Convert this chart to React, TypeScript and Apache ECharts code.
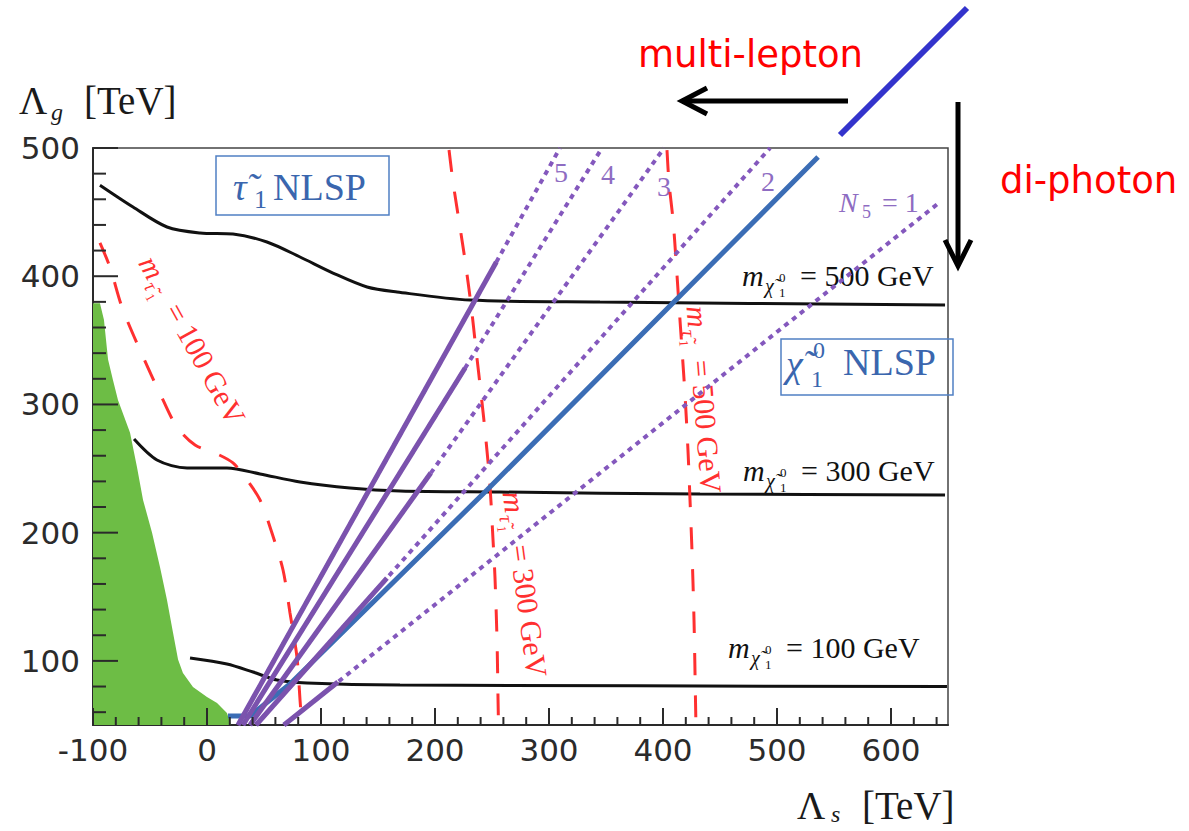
import React, { useEffect, useRef } from 'react';
import * as echarts from 'echarts';

const W = 1189;
const H = 831;

// ---- plot area and axis ranges ----
const GRID = { left: 93, top: 148, right: 948, bottom: 725 };
const X_MIN = -100;
const X_MAX = 650;
const Y_MIN = 50;
const Y_MAX = 500;

// ---- axis ticks ----
const xMajorTicks = [-100, 0, 100, 200, 300, 400, 500, 600];
const yMajorTicks = [100, 200, 300, 400, 500];
const xMinorTicks: number[] = [];
for (let v = -80; v < 650; v += 20) if (v % 100 !== 0) xMinorTicks.push(v);
const yMinorTicks: number[] = [];
for (let v = 60; v < 500; v += 20) if (v % 100 !== 0) yMinorTicks.push(v);

// ---- excluded (green) region, edge of the filled area ----
const excludedEdge = [
  [-100, 379], [-93.9, 379], [-90.4, 366], [-86.8, 335], [-82.5, 319], [-78.1, 303.5],
  [-67.5, 278], [-61.4, 251], [-56.1, 225.5], [-48.2, 200], [-41.2, 173], [-35.1, 147.5],
  [-29.8, 122], [-25.4, 101], [-21.1, 90.6], [-12.3, 79.6], [0, 71.8], [8.8, 67.2],
  [17.5, 59.4], [21.1, 50],
];

// ---- neutralino mass contours (black) ----
const neutralino500 = [
  [-93.9, 471], [-64.9, 454], [-35.1, 438.4], [-6.1, 433.7], [22.8, 432.9], [52.6, 426.7],
  [81.6, 415], [110.5, 402.5], [140.4, 391.6], [166.7, 387.7], [230.7, 381.4], [344.7, 379.9],
  [647.4, 377.5],
];
const neutralino300 = [
  [-64, 273], [-43.9, 256.7], [-17.5, 250.4], [17.5, 250.4], [46.5, 245.8], [81.6, 239.5],
  [125.4, 234.8], [169.3, 232.5], [257, 231.7], [432.5, 230.1], [647.4, 229.4],
];
const neutralino100 = [
  [-14.9, 102.3], [17.5, 97.6], [40.4, 91.3], [61.4, 85.1], [87.7, 82.8], [169.3, 81.2],
  [649.1, 80],
];

// ---- stau mass contours (red dashed) ----
const stau100 = [
  [-93.9, 426], [-85.1, 407], [-74.6, 376], [-58.8, 342.5], [-38.6, 303.5], [-26.3, 282.4],
  [-10.5, 268.4], [8.8, 261.4], [22.8, 254.4], [35.1, 241.1], [46.5, 225.5], [57, 199.7],
  [66.7, 170.9], [72.8, 137.4], [78.9, 103], [81.6, 69.5], [83.3, 50],
];
const stau300 = [
  [212.3, 498.4], [215.8, 473.5], [221.9, 438.4], [226.3, 412.7], [231.6, 377.6], [236, 342.5],
  [240.4, 308.2], [244.7, 272.3], [248.2, 237.2], [250.9, 194.3], [252.6, 165.4], [254.4, 116.3],
  [255.3, 69.5], [255.7, 50],
];
const stau500 = [
  [403.5, 498.4], [405.3, 472.7], [408.8, 443.9], [411.4, 412.7], [414, 377.6], [416.7, 342.5],
  [419.3, 307.4], [421.9, 264.5], [423.7, 225.5], [425.4, 186.5], [427.2, 131.9], [428.5, 69.5],
  [428.9, 50],
];

// ---- NLSP boundary (blue) ----
const nlspBoundary = [[18.4, 57], [37.7, 57], [72.8, 82], [245.6, 233.3], [536, 493]];

// ---- N5 contours: full (dotted) and lower solid part ----
const n5Dotted1 = [[67.5, 50], [643, 457.9]];
const n5Dotted2 = [[43, 50], [493.9, 500]];
const n5Dotted3 = [[37.7, 50], [400.9, 500]];
const n5Dotted4 = [[31.6, 50], [346.5, 500]];
const n5Dotted5 = [[27.2, 50], [309.6, 500]];
const n5Solid1 = [[67.5, 50], [114.8, 83.5]];
const n5Solid2 = [[43, 50], [157.8, 164.6]];
const n5Solid3 = [[37.7, 50], [196.3, 246.5]];
const n5Solid4 = [[31.6, 50], [226.4, 328.4]];
const n5Solid5 = [[27.2, 50], [253.8, 411.1]];

const neutralinoMasses = ['500', '300', '100'];
const stauMasses = ['100', '300', '500'];
const n5Labels = ['5', '4', '3', '2'];

const SERIF = '"Liberation Serif", "DejaVu Serif", serif';
const SANS = '"DejaVu Sans", sans-serif';

const BLACK = '#111111';
const RED = '#ff3030';
const PURPLE = '#7b52ad';
const PURPLE_DOT = '#8458bd';
const PURPLE_TEXT = '#8e6cc2';
const BLUE = '#3b6db5';
const BLUE_TEXT = '#3a66ae';
const TICK = '#2a2a2a';

// linear maps matching the grid and the axis ranges above
const PX_PER_X = (GRID.right - GRID.left) / (X_MAX - X_MIN);
const PX_PER_Y = (GRID.bottom - GRID.top) / (Y_MAX - Y_MIN);
const xPx = (v: number) => GRID.left + (v - X_MIN) * PX_PER_X;
const yPx = (v: number) => GRID.bottom - (v - Y_MIN) * PX_PER_Y;

function line(data: any[], color: string, width: number, type: any, z: number, smooth: number | boolean = false) {
  return {
    type: 'line',
    data,
    symbol: 'none',
    showSymbol: false,
    smooth,
    silent: true,
    z,
    lineStyle: { color, width, type, cap: 'butt' },
  };
}

function txt(x: number, y: number, text: string, size: number, fill: string, opts: any = {}) {
  const align = opts.align || 'left';
  return {
    type: 'text',
    x,
    y,
    silent: true,
    style: {
      text,
      fill,
      font: `${opts.italic ? 'italic ' : ''}${size}px ${opts.family || SERIF}`,
      textAlign: align,
      textVerticalAlign: 'middle',
      align,
      verticalAlign: 'middle',
    },
  };
}

// m_{chi~^0_1} = X GeV
function neutralinoLabel(x0: number, y: number, mass: string) {
  return {
    type: 'group',
    x: x0,
    y,
    silent: true,
    children: [
      txt(0, 0, 'm', 30, BLACK, { italic: true }),
      txt(23, 11, 'χ\u0303', 20, BLACK, { italic: true }),
      txt(37, 2, '0', 13, BLACK),
      txt(37, 17, '1', 13, BLACK),
      txt(58, 0, `= ${mass} GeV`, 30, BLACK),
    ],
  };
}

// m_{tau~_1} = X GeV, rotated along its contour
function stauLabel(x: number, y: number, deg: number, mass: string) {
  return {
    type: 'group',
    x,
    y,
    rotation: (-deg * Math.PI) / 180,
    silent: true,
    children: [
      txt(0, 0, 'm', 30, RED, { italic: true }),
      txt(23, 10, 'τ\u0303', 20, RED, { italic: true }),
      txt(33, 16, '1', 13, RED),
      txt(54, 0, `= ${mass} GeV`, 30, RED),
    ],
  };
}

// inward tick marks as thin filled bars along the bottom and left axes
function tickGraphic() {
  const out: any[] = [];
  const w = 2;
  const xTick = (v: number, len: number) =>
    out.push({ type: 'rect', silent: true, z: 50, shape: { x: xPx(v) - w / 2, y: GRID.bottom - len, width: w, height: len }, style: { fill: TICK } });
  const yTick = (v: number, len: number) =>
    out.push({ type: 'rect', silent: true, z: 50, shape: { x: GRID.left, y: yPx(v) - w / 2, width: len, height: w }, style: { fill: TICK } });
  xMajorTicks.forEach((v) => xTick(v, 17));
  xMinorTicks.forEach((v) => xTick(v, 8));
  yMajorTicks.forEach((v) => yTick(v, 25));
  yMinorTicks.forEach((v) => yTick(v, 13));
  return out;
}

function baseGraphic() {
  const n5LabelPos = [
    [561, 172],
    [608, 174],
    [664, 186],
    [768, 181],
  ];
  const neutralinoPos = [
    [742, 275],
    [743, 470],
    [728, 647],
  ];
  const stauPos = [
    [147, 258, 61],
    [513, 491, 82.5],
    [697, 306, 85.5],
  ];
  return [
    ...tickGraphic(),
    // stau NLSP box
    { type: 'rect', silent: true, shape: { x: 216, y: 156, width: 173, height: 59 }, style: { fill: 'none', stroke: '#5080c4', lineWidth: 1.5 } },
    txt(233, 187, 'τ\u0303', 38, BLUE_TEXT, { italic: true }),
    txt(254, 199, '1', 26, BLUE_TEXT),
    txt(273, 187, 'NLSP', 38, BLUE_TEXT),
    // neutralino NLSP box
    { type: 'rect', silent: true, shape: { x: 781, y: 339, width: 172, height: 56 }, style: { fill: 'none', stroke: '#5080c4', lineWidth: 1.5 } },
    txt(786, 364, 'χ\u0303', 38, BLUE_TEXT, { italic: true }),
    txt(813, 350, '0', 24, BLUE_TEXT),
    txt(811, 379, '1', 24, BLUE_TEXT),
    txt(843, 362, 'NLSP', 38, BLUE_TEXT),
    // N5 labels
    ...n5Labels.map((s, i) => txt(n5LabelPos[i][0], n5LabelPos[i][1], s, 28, PURPLE_TEXT, { align: 'center' })),
    txt(839, 202, 'N', 28, PURPLE_TEXT, { italic: true }),
    txt(862, 212, '5', 18, PURPLE_TEXT),
    txt(882, 202, '= 1', 28, PURPLE_TEXT),
    // neutralino mass labels
    ...neutralinoMasses.map((m, i) => neutralinoLabel(neutralinoPos[i][0], neutralinoPos[i][1], m)),
    // stau mass labels
    ...stauMasses.map((m, i) => stauLabel(stauPos[i][0], stauPos[i][1], stauPos[i][2], m)),
    // axis titles
    txt(19, 100, 'Λ', 39, '#1a1a1a'),
    txt(51, 112, 'g', 24, '#1a1a1a', { italic: true }),
    txt(84, 100, '[TeV]', 39, '#1a1a1a'),
    txt(797, 805, 'Λ', 39, '#1a1a1a'),
    txt(831, 814, 's', 24, '#1a1a1a', { italic: true }),
    txt(862, 805, '[TeV]', 39, '#1a1a1a'),
    // search-direction annotations
    txt(638, 54, 'multi-lepton', 37, '#ff0000', { family: SANS }),
    txt(1000, 180, 'di-photon', 37, '#ff0000', { family: SANS }),
    { type: 'line', silent: true, shape: { x1: 848, y1: 101, x2: 684, y2: 101 }, style: { stroke: '#000', lineWidth: 5 } },
    { type: 'polyline', silent: true, shape: { points: [[707, 88], [682, 101], [707, 114]] }, style: { stroke: '#000', lineWidth: 5, fill: 'none' } },
    { type: 'line', silent: true, shape: { x1: 958, y1: 102, x2: 958, y2: 264 }, style: { stroke: '#000', lineWidth: 5 } },
    { type: 'polyline', silent: true, shape: { points: [[945, 240], [958, 266], [971, 240]] }, style: { stroke: '#000', lineWidth: 5, fill: 'none' } },
    { type: 'line', silent: true, shape: { x1: 840, y1: 135, x2: 967, y2: 8 }, style: { stroke: '#3333cc', lineWidth: 6 } },
  ];
}

function buildOption() {
  const dotted = [n5Dotted1, n5Dotted2, n5Dotted3, n5Dotted4, n5Dotted5];
  const solid = [n5Solid1, n5Solid2, n5Solid3, n5Solid4, n5Solid5];

  return {
    animation: false,
    backgroundColor: '#ffffff',
    grid: {
      left: GRID.left,
      top: GRID.top,
      right: W - GRID.right,
      bottom: H - GRID.bottom,
      show: true,
      borderColor: '#444444',
      borderWidth: 1.5,
      backgroundColor: 'transparent',
    },
    xAxis: {
      type: 'value',
      min: X_MIN,
      max: X_MAX,
      axisLine: { show: true, onZero: false, lineStyle: { color: TICK, width: 2 } },
      axisTick: { show: false },
      axisLabel: {
        show: true,
        customValues: xMajorTicks,
        fontSize: 31,
        fontFamily: SANS,
        color: '#2b2b2b',
        margin: 9,
        formatter: (v: number) => String(v),
      },
      splitLine: { show: false },
    },
    yAxis: {
      type: 'value',
      min: Y_MIN,
      max: Y_MAX,
      axisLine: { show: true, onZero: false, lineStyle: { color: TICK, width: 2 } },
      axisTick: { show: false },
      axisLabel: {
        show: true,
        customValues: yMajorTicks,
        fontSize: 31,
        fontFamily: SANS,
        color: '#2b2b2b',
        margin: 13,
        formatter: (v: number) => String(v),
      },
      splitLine: { show: false },
    },
    series: [
      {
        type: 'line',
        data: excludedEdge,
        symbol: 'none',
        silent: true,
        z: 1,
        lineStyle: { width: 0 },
        areaStyle: { color: '#6dbd45', opacity: 1, origin: 'start' },
      },
      line(neutralino500, BLACK, 3, 'solid', 3, 0.3),
      line(neutralino300, BLACK, 3, 'solid', 3, 0.3),
      line(neutralino100, BLACK, 3, 'solid', 3, 0.3),
      line(stau100, RED, 3, [22, 20], 4, 0.3),
      line(stau300, RED, 3, [22, 20], 4, 0.3),
      line(stau500, RED, 3, [22, 20], 4, 0.3),
      ...dotted.map((d) => line(d, PURPLE_DOT, 4, [5, 5], 5)),
      line(nlspBoundary, BLUE, 5, 'solid', 6, false),
      ...solid.map((d) => line(d, PURPLE, 5, 'solid', 7)),
    ],
    graphic: { elements: baseGraphic() },
  };
}

export default function App() {
  const ref = useRef<HTMLDivElement>(null);
  useEffect(() => {
    if (!ref.current) return;
    const chart = echarts.init(ref.current, null, { renderer: 'svg' });
    chart.setOption(buildOption() as any);
    return () => chart.dispose();
  }, []);
  return <div ref={ref} style={{ position: 'absolute', left: 0, top: 0, width: W, height: H }} />;
}
